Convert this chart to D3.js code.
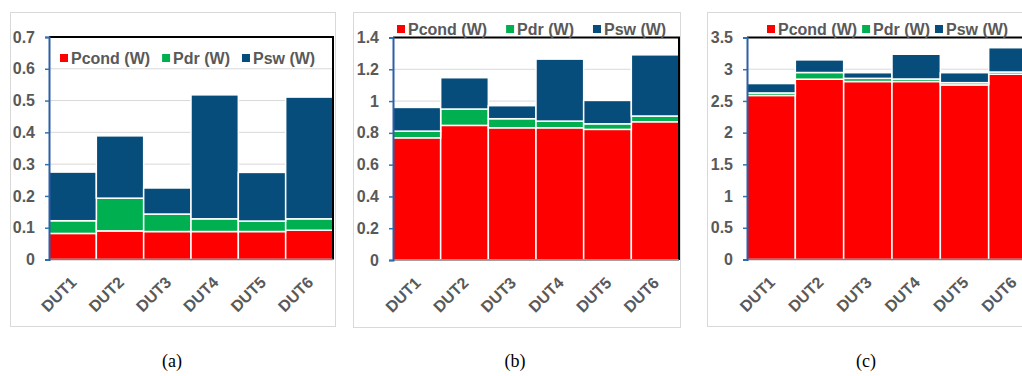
<!DOCTYPE html>
<html>
<head>
<meta charset="utf-8">
<script src="https://cdn.jsdelivr.net/npm/d3@7"></script>
<style>
  body { margin: 0; background: #fff; }
  svg { display: block; }
</style>
</head>
<body>
<div id="chart"></div>
<script>
var categories = ['DUT1', 'DUT2', 'DUT3', 'DUT4', 'DUT5', 'DUT6'];
var seriesNames = ['Pcond (W)', 'Pdr (W)', 'Psw (W)'];
var seriesColors = ['#ff0000', '#00b050', '#064d7b'];

// panel (a)
var pcondA = [0.082, 0.090, 0.088, 0.088, 0.088, 0.092];
var pdrA = [0.040, 0.103, 0.055, 0.040, 0.033, 0.036];
var pswA = [0.153, 0.196, 0.082, 0.390, 0.153, 0.383];
var ticksA = [0, 0.1, 0.2, 0.3, 0.4, 0.5, 0.6, 0.7];

// panel (b)
var pcondB = [0.769, 0.847, 0.832, 0.832, 0.822, 0.870];
var pdrB = [0.042, 0.103, 0.057, 0.042, 0.035, 0.036];
var pswB = [0.149, 0.197, 0.082, 0.390, 0.147, 0.385];
var ticksB = [0, 0.2, 0.4, 0.6, 0.8, 1, 1.2, 1.4];

// panel (c)
var pcondC = [2.586, 2.843, 2.806, 2.806, 2.753, 2.921];
var pdrC = [0.040, 0.105, 0.050, 0.040, 0.035, 0.035];
var pswC = [0.148, 0.199, 0.089, 0.390, 0.157, 0.383];
var ticksC = [0, 0.5, 1, 1.5, 2, 2.5, 3, 3.5];

var captions = ['(a)', '(b)', '(c)'];

var panels = [
  { pcond: pcondA, pdr: pdrA, psw: pswA, ticks: ticksA, caption: captions[0],
    frame: [10, 12, 325, 314], plot: [49, 37, 284, 222.5], legend: [60, 58, 12], capX: 172 },
  { pcond: pcondB, pdr: pdrB, psw: pswB, ticks: ticksB, caption: captions[1],
    frame: [353, 12, 327, 315], plot: [393, 37.5, 286, 222.5], legend: [397, 29, 19], capX: 515 },
  { pcond: pcondC, pdr: pdrC, psw: pswC, ticks: ticksC, caption: captions[2],
    frame: [707, 12, 340, 314], plot: [747, 37.5, 290, 222], legend: [767, 29, 5], capX: 866 }
];

var width = 1022, height = 376;
var font = "'Liberation Sans', Arial, sans-serif";
var textColor = '#595959';

var svg = d3.select('#chart').append('svg')
  .attr('width', width)
  .attr('height', height);

panels.forEach(function (p) {
  var rows = categories.map(function (c, i) {
    return { cat: c, 'Pcond (W)': p.pcond[i], 'Pdr (W)': p.pdr[i], 'Psw (W)': p.psw[i] };
  });
  var stack = d3.stack().keys(seriesNames)(rows);

  // panel frame
  svg.append('rect')
    .attr('x', p.frame[0] + 0.5).attr('y', p.frame[1] + 0.5)
    .attr('width', p.frame[2]).attr('height', p.frame[3])
    .attr('fill', 'none').attr('stroke', '#d9d9d9');

  var g = svg.append('g')
    .attr('transform', 'translate(' + p.plot[0] + ',' + p.plot[1] + ')');
  var w = p.plot[2], h = p.plot[3];

  var x = d3.scaleBand().domain(categories).range([0, w]).padding(0);
  var y = d3.scaleLinear().domain([0, d3.max(p.ticks)]).range([h, 0]);

  // gridlines
  g.append('g').selectAll('line')
    .data(p.ticks.slice(1))
    .enter().append('line')
    .attr('x1', 0).attr('x2', w)
    .attr('y1', function (d) { return y(d); })
    .attr('y2', function (d) { return y(d); })
    .attr('stroke', '#d9d9d9').attr('stroke-width', 1);

  // stacked bars
  g.append('g').selectAll('g')
    .data(stack)
    .enter().append('g')
    .attr('fill', function (d, i) { return seriesColors[i]; })
    .selectAll('rect')
    .data(function (d) { return d; })
    .enter().append('rect')
    .attr('x', function (d) { return x(d.data.cat); })
    .attr('y', function (d) { return y(d[1]); })
    .attr('width', x.bandwidth())
    .attr('height', function (d) { return y(d[0]) - y(d[1]); })
    .attr('stroke', '#ffffff')
    .attr('stroke-width', 1.5);

  // top and right border
  g.append('path')
    .attr('d', 'M0,0H' + w + 'V' + h)
    .attr('fill', 'none').attr('stroke', '#000').attr('stroke-width', 2);

  // bottom axis
  g.append('line')
    .attr('x1', 0).attr('x2', w).attr('y1', h).attr('y2', h)
    .attr('stroke', '#7f7f7f').attr('stroke-width', 1.5);

  // left axis
  var yAxis = g.append('g')
    .call(d3.axisLeft(y).tickValues(p.ticks).tickSize(4).tickPadding(10)
      .tickFormat(function (d) { return d3.format('~g')(d); }));
  yAxis.select('.domain').attr('stroke', '#2e5fa6').attr('stroke-width', 2);
  yAxis.selectAll('.tick line').attr('stroke', '#2e75b6').attr('stroke-width', 1.5);
  yAxis.selectAll('.tick text')
    .attr('fill', textColor)
    .style('font-family', font).style('font-weight', 'bold').style('font-size', '16px');

  // x labels
  g.append('g').selectAll('text')
    .data(categories)
    .enter().append('text')
    .attr('transform', function (d) {
      return 'translate(' + (x(d) + x.bandwidth() / 2 - 3) + ',' + (h + 16) + ') rotate(-45)';
    })
    .attr('text-anchor', 'end')
    .attr('dy', '0.7em')
    .attr('fill', textColor)
    .style('font-family', font).style('font-weight', 'bold').style('font-size', '16px')
    .text(function (d) { return d; });

  // legend
  var lx = p.legend[0];
  seriesNames.forEach(function (name, i) {
    svg.append('rect')
      .attr('x', lx).attr('y', p.legend[1] - 4)
      .attr('width', 8).attr('height', 8)
      .attr('fill', seriesColors[i]);
    var t = svg.append('text')
      .attr('x', lx + 11).attr('y', p.legend[1])
      .attr('dy', '0.36em')
      .attr('fill', textColor)
      .style('font-family', font).style('font-weight', 'bold').style('font-size', '16px')
      .text(name);
    lx += 11 + t.node().getComputedTextLength() + p.legend[2];
  });

  // caption
  svg.append('text')
    .attr('x', p.capX).attr('y', 361)
    .attr('dy', '0.35em')
    .attr('text-anchor', 'middle')
    .attr('fill', '#000')
    .style('font-family', "'Liberation Serif', 'DejaVu Serif', serif")
    .style('font-size', '18px')
    .text(p.caption);
});
</script>
</body>
</html>
